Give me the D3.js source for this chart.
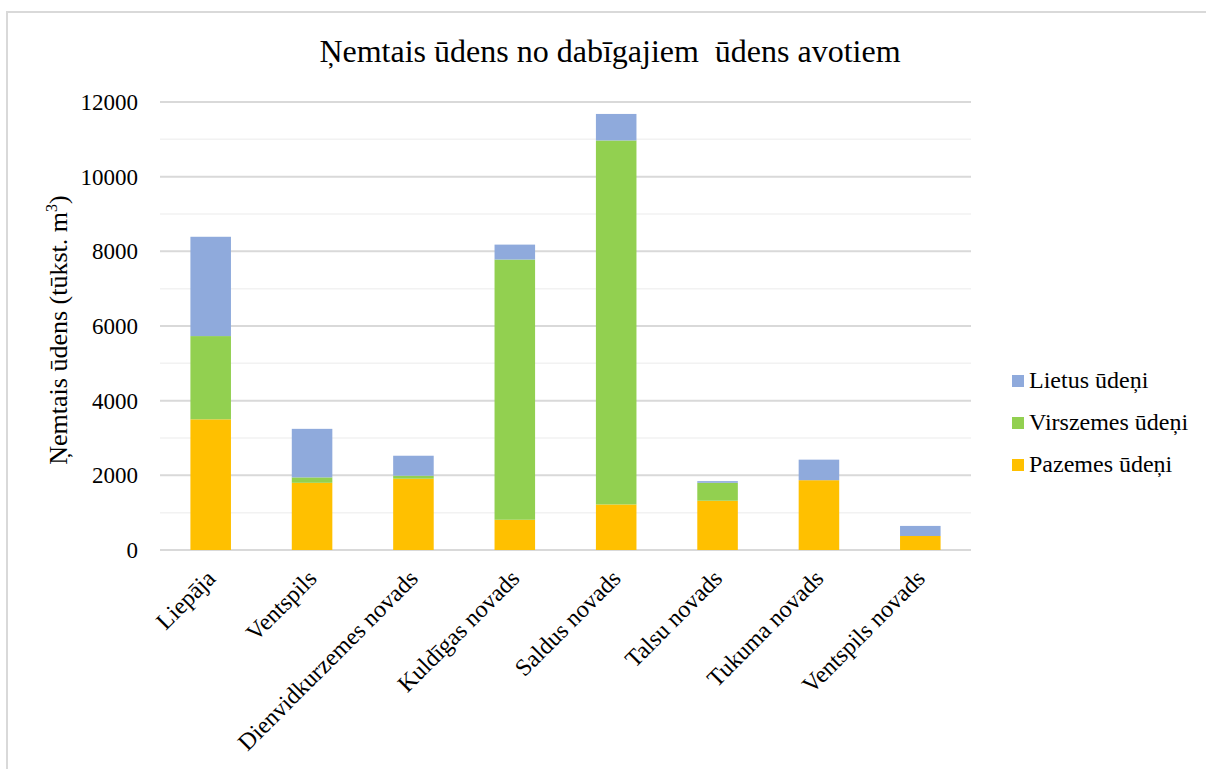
<!DOCTYPE html>
<html><head><meta charset="utf-8">
<script src="https://cdn.jsdelivr.net/npm/d3@7"></script>
<style>body{margin:0;background:#fff}svg{display:block}text{font-family:"Liberation Serif","Times New Roman",serif;fill:#000}</style>
</head><body><svg id="c" width="1206" height="769"></svg>
<script>
const categories = ["Liepāja","Ventspils","Dienvidkurzemes novads","Kuldīgas novads","Saldus novads","Talsu novads","Tukuma novads","Ventspils novads"];
const pazemes   = [3500, 1800, 1910,  810, 1220, 1320, 1870, 375];
const virszemes = [2230,  145,   80, 6970, 9750,  480,    0,   0];
const lietus    = [2660, 1300,  535,  400,  710,   45,  550, 270];
const seriesNames = ["Pazemes ūdeņi","Virszemes ūdeņi","Lietus ūdeņi"];
const seriesColors = ["#ffc000","#92d050","#8faadc"];
const yTicks = [0,2000,4000,6000,8000,10000,12000];
const yMinor = [1000,3000,5000,7000,9000,11000];

const FF = '"Liberation Serif","Times New Roman",serif';
const svg = d3.select("#c");
svg.append("rect").attr("x",7).attr("y",12).attr("width",1220).attr("height",780)
  .attr("fill","#fff").attr("stroke","#d9d9d9").attr("stroke-width",2);

const L=160,R=971,T=102,B=550;
const x = d3.scaleBand().domain(categories).range([L,R]).paddingInner(0.6).paddingOuter(0.3);
const y = d3.scaleLinear().domain([0,12000]).range([B,T]);

svg.append("g").selectAll("line").data(yMinor).join("line")
  .attr("x1",L).attr("x2",R).attr("y1",d=>y(d)).attr("y2",d=>y(d))
  .attr("stroke","#f2f2f2").attr("stroke-width",1.5);
svg.append("g").selectAll("line").data(yTicks).join("line")
  .attr("x1",L).attr("x2",R).attr("y1",d=>y(d)).attr("y2",d=>y(d))
  .attr("stroke","#d9d9d9").attr("stroke-width",2);

const yAxis = d3.axisLeft(y).tickValues(yTicks).tickFormat(d=>d).tickSize(0).tickPadding(22);
const ga = svg.append("g").attr("transform",`translate(${L},0)`).call(yAxis);
ga.select(".domain").remove();
ga.attr("font-family",FF).attr("font-size",23);
ga.selectAll("text").style("font-family",FF).style("font-size","23px").attr("fill","#000");

const rows = categories.map((c,i)=>({cat:c,p:pazemes[i],v:virszemes[i],l:lietus[i]}));
const stack = d3.stack().keys(["p","v","l"])(rows);
svg.append("g").selectAll("g").data(stack).join("g").attr("fill",(d,i)=>seriesColors[i])
  .selectAll("rect").data(d=>d).join("rect")
  .attr("x",d=>x(d.data.cat)).attr("width",x.bandwidth())
  .attr("y",d=>y(d[1])).attr("height",d=>y(d[0])-y(d[1]));

const xAxis = d3.axisBottom(x).tickSize(0).tickPadding(0);
const gx = svg.append("g").attr("transform",`translate(0,${B})`).call(xAxis);
gx.select(".domain").remove();
gx.attr("font-family",FF).attr("font-size",24);
gx.selectAll("text").style("font-family",FF).style("font-size","24px").attr("fill","#000")
  .attr("text-anchor","end").attr("dy",0).attr("transform","translate(6,30) rotate(-45)");

svg.append("text").attr("x",610).attr("y",62).attr("text-anchor","middle").attr("xml:space","preserve")
  .style("font-family",FF).style("font-size","32px").text("Ņemtais ūdens no dabīgajiem  ūdens avotiem");

const yt = svg.append("text").attr("transform",`translate(67,${(T+B)/2+4}) rotate(-90)`).attr("text-anchor","middle")
  .style("font-family",FF).style("font-size","26px");
yt.append("tspan").text("Ņemtais ūdens (tūkst. m");
yt.append("tspan").text("3").style("font-size","16px").attr("dy",-10);
yt.append("tspan").text(")").attr("dy",10);

const leg = svg.append("g");
const legItems = [2,1,0];
legItems.forEach((si,k)=>{
  const yy = 388 + k*42;
  leg.append("rect").attr("x",1012).attr("y",yy-13).attr("width",12).attr("height",12).attr("fill",seriesColors[si]);
  leg.append("text").attr("x",1029).attr("y",yy).style("font-family",FF).style("font-size","24px").text(seriesNames[si]);
});
</script></body></html>
